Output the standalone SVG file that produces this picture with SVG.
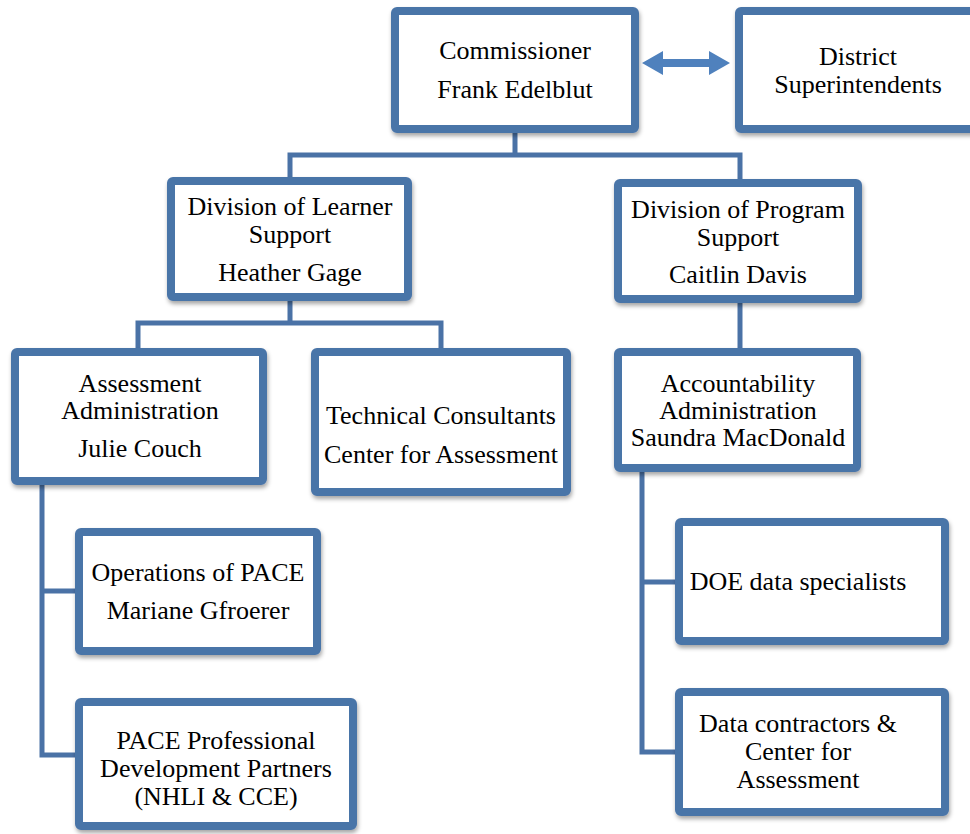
<svg xmlns="http://www.w3.org/2000/svg" width="970" height="834" viewBox="0 0 970 834">
<defs>
<filter id="sh" x="-10%" y="-10%" width="120%" height="130%">
<feDropShadow dx="1" dy="3" stdDeviation="2" flood-color="#000" flood-opacity="0.35"/>
</filter>
<style>
.box{fill:#fff;stroke:#4a74a8;stroke-width:8;filter:url(#sh)}
text{font-family:'Liberation Serif','Times New Roman',serif;font-size:26px;fill:#000;text-anchor:middle}
.c{fill:none;stroke:#4a72a6;stroke-width:5}
</style>
</defs>
<rect width="970" height="834" fill="#fff"/>
<g id="connectors">
<path class="c" d="M515,133 V155 M290,178 V155 H740 V180"/>
<path class="c" d="M290,300 V323 M138,348 V323 H441 V348"/>
<path class="c" d="M740,302 V348"/>
<path class="c" d="M42,485 V755 H75 M42,591 H75"/>
<path class="c" d="M642,472 V752 H675 M642,582 H675"/>
<polygon points="642,63 663,51 663,59 709,59 709,51 730,63 709,75 709,67 663,67 663,75" fill="#4f81bd"/>
</g>
<g id="commissioner">
<rect class="box" x="395" y="11" width="240" height="118" rx="2"/>
<text x="515" y="59">Commissioner</text>
<text x="515" y="98">Frank Edelblut</text>
</g>
<g id="district">
<rect class="box" x="739" y="11" width="240" height="118" rx="2"/>
<text x="858" y="65">District</text>
<text x="858" y="93">Superintendents</text>
</g>
<g id="learner">
<rect class="box" x="171" y="181" width="237" height="116" rx="2"/>
<text x="290" y="215">Division of Learner</text>
<text x="290" y="243">Support</text>
<text x="290" y="281">Heather Gage</text>
</g>
<g id="program">
<rect class="box" x="618" y="183" width="240" height="116" rx="2"/>
<text x="738" y="218">Division of Program</text>
<text x="738" y="246">Support</text>
<text x="738" y="283">Caitlin Davis</text>
</g>
<g id="assessment">
<rect class="box" x="15" y="352" width="248" height="129" rx="2"/>
<text x="140" y="392">Assessment</text>
<text x="140" y="419">Administration</text>
<text x="140" y="457">Julie Couch</text>
</g>
<g id="technical">
<rect class="box" x="315" y="352" width="252" height="140" rx="2"/>
<text x="441" y="424">Technical Consultants</text>
<text x="441" y="463">Center for Assessment</text>
</g>
<g id="accountability">
<rect class="box" x="618" y="352" width="239" height="116" rx="2"/>
<text x="738" y="392">Accountability</text>
<text x="738" y="419">Administration</text>
<text x="738" y="446">Saundra MacDonald</text>
</g>
<g id="operations">
<rect class="box" x="79" y="532" width="238" height="119" rx="2"/>
<text x="198" y="581">Operations of PACE</text>
<text x="198" y="619">Mariane Gfroerer</text>
</g>
<g id="pace">
<rect class="box" x="79" y="702" width="274" height="124" rx="2"/>
<text x="216" y="749">PACE Professional</text>
<text x="216" y="777">Development Partners</text>
<text x="216" y="805">(NHLI &amp; CCE)</text>
</g>
<g id="doe">
<rect class="box" x="679" y="522" width="266" height="119" rx="2"/>
<text x="798" y="590">DOE data specialists</text>
</g>
<g id="contractors">
<rect class="box" x="679" y="692" width="266" height="120" rx="2"/>
<text x="798" y="732">Data contractors &amp;</text>
<text x="798" y="760">Center for</text>
<text x="798" y="788">Assessment</text>
</g>
</svg>
